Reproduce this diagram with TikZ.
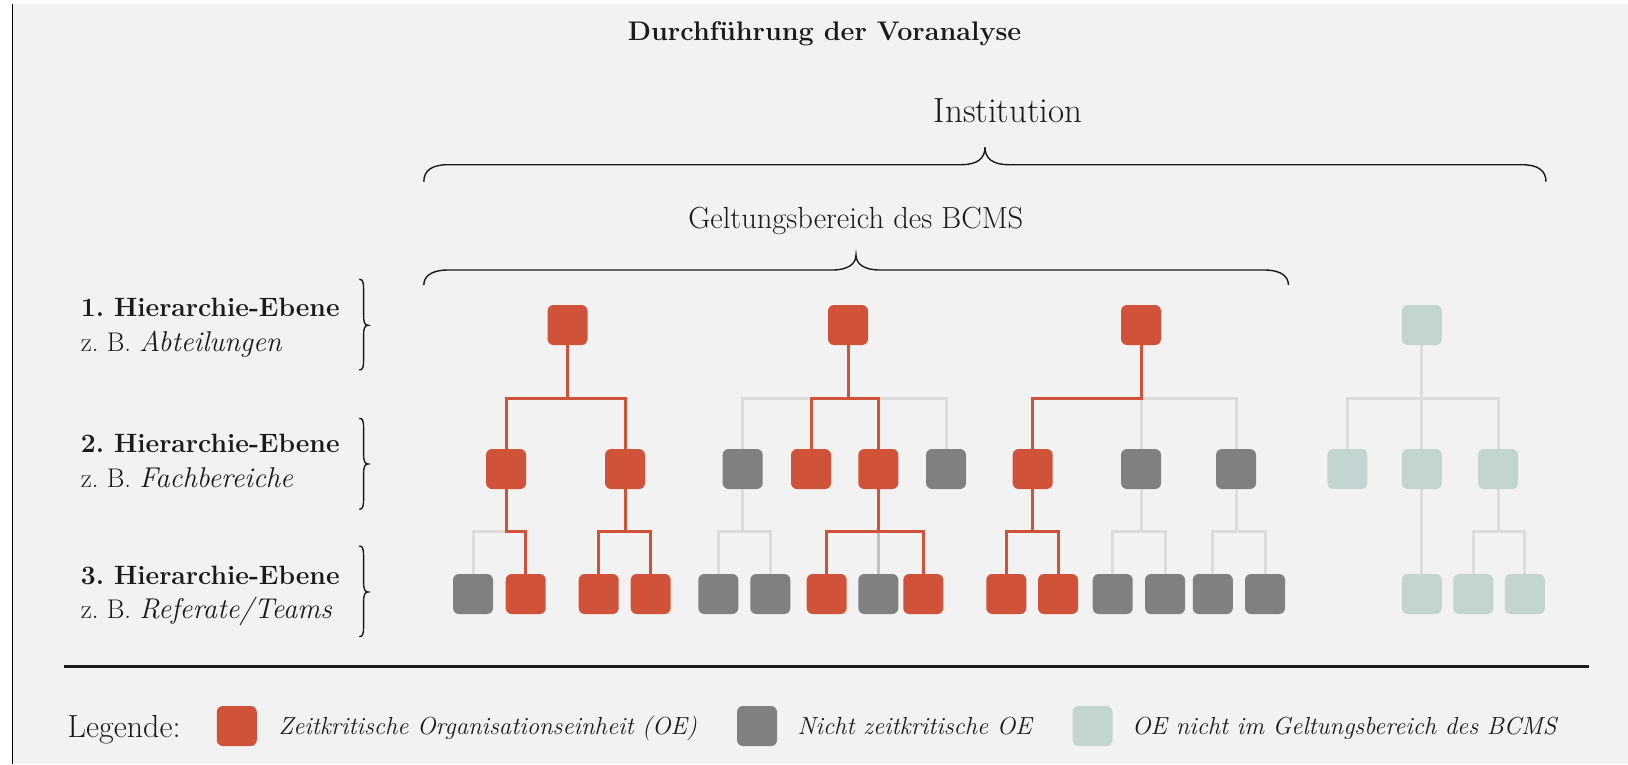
\documentclass[tikz,border=0pt]{standalone}
\usepackage{fontspec}
\frenchspacing
\definecolor{pageBg}{HTML}{F2F2F2}
\definecolor{oeRed}{HTML}{CF5239}
\definecolor{oeGray}{HTML}{808080}
\definecolor{oeTeal}{HTML}{C2D5D1}
\definecolor{lineGray}{HTML}{DCDCDC}
\definecolor{lineMid}{HTML}{C0C0C0}
\definecolor{inkBlack}{HTML}{1A1A1A}

% horizontal curly brace opening downwards: x-left, x-tip, x-right, y-end, y-flat, y-tip
\newcommand\drawHBrace[6]{%
  \draw[bracestyle] (#1,#4) .. controls (#1,#5+6) and (#1+8,#5) .. (#1+24,#5)
    -- (#2-24,#5) .. controls (#2-8,#5) and (#2,#5-6) .. (#2,#6)
    .. controls (#2,#5-6) and (#2+8,#5) .. (#2+24,#5)
    -- (#3-24,#5) .. controls (#3-8,#5) and (#3,#5+6) .. (#3,#4);}
% vertical curly brace pointing right: y-top, y-tip, y-bottom
\newcommand\drawVBrace[3]{%
  \draw[bracestyle] (359.3,#1) .. controls (362.8,#1) and (363.6,#1+3) .. (363.6,#1+10)
    -- (363.6,#2-10) .. controls (363.6,#2-3) and (364.6,#2) .. (368.3,#2)
    .. controls (364.6,#2) and (363.6,#2+3) .. (363.6,#2+10)
    -- (363.6,#3-10) .. controls (363.6,#3-3) and (362.8,#3) .. (359.3,#3);}
% example wording in the level labels
\newcommand\lvexample[1]{{\itshape\fontsize{28.6}{30}\selectfont #1}}

\begin{document}
\begin{tikzpicture}[x=1pt,y=-1pt,
  oe/.style={minimum width=40pt,minimum height=40pt,inner sep=0pt,rounded corners=6pt},
  krit/.style={oe,fill=oeRed},
  nkrit/.style={oe,fill=oeGray},
  extern/.style={oe,fill=oeTeal},
  redline/.style={draw=oeRed,line width=3pt},
  greyline/.style={draw=lineGray,line width=3pt},
  midline/.style={draw=lineMid,line width=3pt},
  bracestyle/.style={draw=inkBlack,line width=1.4pt},
  lbl/.style={inner sep=0pt,anchor=base west,text=inkBlack},
  ctr/.style={inner sep=0pt,anchor=base,text=inkBlack},
  lvhead/.style={lbl,font=\bfseries\fontsize{26.5}{30}\selectfont},
  lvnote/.style={lbl,font=\fontsize{27}{30}\selectfont},
  legtxt/.style={lbl,font=\itshape\fontsize{24.7}{28}\selectfont},
  ]
\useasboundingbox (0,0) rectangle (1628,764);
\fill[white] (0,0) rectangle (1628,764);
\fill[pageBg] (12.7,4) rectangle (1628,764);
\draw[black,line width=1.3pt] (12.7,4) -- (12.7,764);

% headings
\node[ctr,font=\bfseries\fontsize{26.9}{30}\selectfont] (title) at (824.6,40.7) {Durchführung der Voranalyse};
\node[ctr,font=\fontsize{35}{40}\selectfont] (inst) at (1008,122.5) {Institution};
\node[ctr,font=\fontsize{30.5}{34}\selectfont] (scope) at (855.8,228.3) {Geltungsbereich des BCMS};

% braces
\drawHBrace{423.8}{985}{1546}{181.7}{164.7}{147.3}
\drawHBrace{423.8}{856}{1288.4}{285}{270}{255}
\drawVBrace{279.3}{325.3}{370}
\drawVBrace{418.3}{464}{509.3}
\drawVBrace{546}{592}{636.7}

% level labels
\node[lvhead] (lvA) at (80.7,316.7) {1. Hierarchie-Ebene};
\node[lvnote] (lvAx) at (80.7,351.7) {z. B. \lvexample{Abteilungen}};
\node[lvhead] (lvB) at (80.7,452.7) {2. Hierarchie-Ebene};
\node[lvnote] (lvBx) at (80.7,487.7) {z. B. \lvexample{Fachbereiche}};
\node[lvhead] (lvC) at (80.7,584.3) {3. Hierarchie-Ebene};
\node[lvnote] (lvCx) at (80.7,618.3) {z. B. \lvexample{Referate/Teams}};

% bus levels
\coordinate (busA) at (0,398.5);
\coordinate (busB) at (0,531.7);

% tree 1
\node[krit] (t1) at (567.5,325) {};
\node[krit] (t1a) at (506,469) {};
\node[krit] (t1b) at (625,469) {};
\node[nkrit] (t1a1) at (473,594) {};
\node[krit] (t1a2) at (525.7,594) {};
\node[krit] (t1b1) at (598.7,594) {};
\node[krit] (t1b2) at (650.7,594) {};
% tree 2
\node[krit] (t2) at (848,325) {};
\node[nkrit] (t2a) at (742.7,469) {};
\node[krit] (t2b) at (811,469) {};
\node[krit] (t2c) at (878.3,469) {};
\node[nkrit] (t2d) at (946,469) {};
\node[nkrit] (t2a1) at (718.3,594) {};
\node[nkrit] (t2a2) at (770.3,594) {};
\node[krit] (t2c1) at (826.7,594) {};
\node[nkrit] (t2c2) at (878.3,594) {};
\node[krit] (t2c3) at (923.3,594) {};
% tree 3
\node[krit] (t3) at (1141,325) {};
\node[krit] (t3a) at (1032.7,469) {};
\node[nkrit] (t3b) at (1141,469) {};
\node[nkrit] (t3c) at (1236,469) {};
\node[krit] (t3a1) at (1006.3,594) {};
\node[krit] (t3a2) at (1058,594) {};
\node[nkrit] (t3b1) at (1112.7,594) {};
\node[nkrit] (t3b2) at (1165,594) {};
\node[nkrit] (t3c1) at (1212.8,594) {};
\node[nkrit] (t3c2) at (1265,594) {};
% tree 4
\node[extern] (t4) at (1421.8,325) {};
\node[extern] (t4a) at (1347.3,469) {};
\node[extern] (t4b) at (1421.8,469) {};
\node[extern] (t4c) at (1498,469) {};
\node[extern] (t4b1) at (1421.8,594) {};
\node[extern] (t4c1) at (1473.3,594) {};
\node[extern] (t4c2) at (1524.8,594) {};

% connectors outside the critical paths
\foreach \p/\c/\b in {t1a/t1a1/busB, t2/t2a/busA, t2/t2d/busA, t2a/t2a1/busB, t2a/t2a2/busB,
    t3/t3c/busA, t3b/t3b1/busB, t3b/t3b2/busB, t3c/t3c1/busB, t3c/t3c2/busB,
    t4/t4a/busA, t4/t4c/busA, t4c/t4c1/busB, t4c/t4c2/busB}
  \draw[greyline] (\p.south) -- (\p.south |- \b) -| (\c.north);
\draw[greyline] (t3.south) -- (t3b.north);
\draw[greyline] (t4.south) -- (t4b.north);
\draw[greyline] (t4b.south) -- (t4b1.north);
\draw[midline] (t2c.south) -- (t2c2.north);
% critical paths
\foreach \p/\c/\b in {t1/t1a/busA, t1/t1b/busA, t1a/t1a2/busB, t1b/t1b1/busB, t1b/t1b2/busB,
    t2/t2b/busA, t2/t2c/busA, t2c/t2c1/busB, t2c/t2c3/busB,
    t3/t3a/busA, t3a/t3a1/busB, t3a/t3a2/busB}
  \draw[redline] (\p.south) -- (\p.south |- \b) -| (\c.north);

% separator and legend
\draw[inkBlack,line width=2.5pt] (64.4,666.7) -- (1589,666.7);
\node[lbl,font=\fontsize{32}{36}\selectfont] (legTitle) at (67.5,737) {Legende:};
\node[krit] (legRed) at (236.8,726) {};
\node[legtxt] (legRedTxt) at (278.3,734) {Zeitkritische Organisationseinheit (OE)};
\node[nkrit] (legGray) at (757,726) {};
\node[legtxt] (legGrayTxt) at (797.5,734) {Nicht zeitkritische OE};
\node[extern] (legTeal) at (1092.5,726) {};
\node[legtxt] (legTealTxt) at (1132,734) {OE nicht im Geltungsbereich des BCMS};
\end{tikzpicture}
\end{document}
